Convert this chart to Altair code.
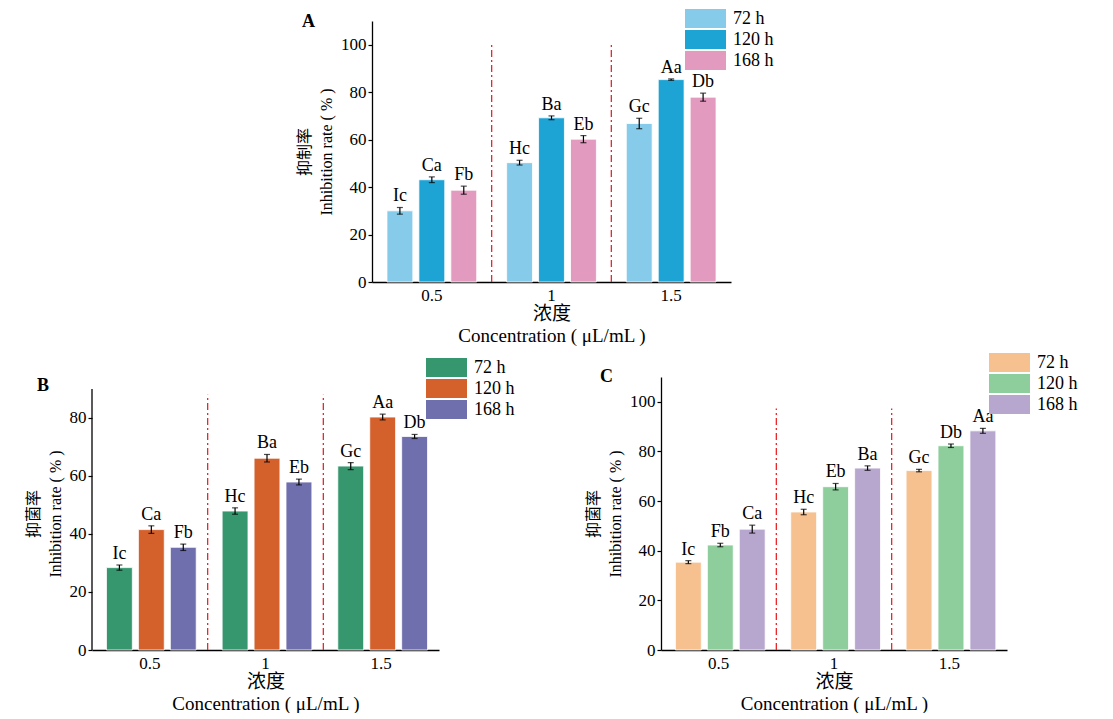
import altair as alt
import pandas as pd

SERIF = "Liberation Serif, Noto Sans CJK SC"

conc = ["0.5", "1", "1.5"]
series = ["72 h", "120 h", "168 h"]

# Panel A
a_72 = [30.0, 50.3, 66.8]
a_120 = [43.1, 69.2, 85.3]
a_168 = [38.7, 60.2, 77.9]
a_72_err = [1.4, 1.0, 2.2]
a_120_err = [1.2, 0.8, 0.3]
a_168_err = [1.7, 1.5, 1.7]
a_72_lab = ["Ic", "Hc", "Gc"]
a_120_lab = ["Ca", "Ba", "Aa"]
a_168_lab = ["Fb", "Eb", "Db"]
a_colors = ["#87CBEB", "#1EA3D5", "#E29ABF"]

# Panel B
b_72 = [28.4, 47.9, 63.4]
b_120 = [41.5, 66.1, 80.3]
b_168 = [35.4, 57.9, 73.6]
b_72_err = [0.9, 1.1, 1.2]
b_120_err = [1.3, 1.3, 1.0]
b_168_err = [1.1, 1.0, 0.7]
b_72_lab = ["Ic", "Hc", "Gc"]
b_120_lab = ["Ca", "Ba", "Aa"]
b_168_lab = ["Fb", "Eb", "Db"]
b_colors = ["#36976F", "#D4602C", "#6F6FAD"]

# Panel C
c_72 = [35.4, 55.6, 72.3]
c_120 = [42.3, 65.8, 82.3]
c_168 = [48.7, 73.3, 88.3]
c_72_err = [0.6, 1.1, 0.5]
c_120_err = [0.7, 1.3, 0.7]
c_168_err = [1.6, 0.9, 1.0]
c_72_lab = ["Ic", "Hc", "Gc"]
c_120_lab = ["Fb", "Eb", "Db"]
c_168_lab = ["Ca", "Ba", "Aa"]
c_colors = ["#F6C08F", "#8DCE9C", "#B7A6CD"]

separators = [1, 2]


def make_df(vals, errs, labs):
    rows = []
    for s, v, e, l in zip(series, vals, errs, labs):
        for c, vv, ee, ll in zip(conc, v, e, l):
            rows.append({"conc": c, "series": s, "value": vv, "err": ee,
                         "lo": vv - ee, "hi": vv + ee, "label": ll})
    return pd.DataFrame(rows)


def panel(df, colors, ydomain, yticks, sep_top, ytitle_cn, width, height,
          legx, legy, letter, letter_dx, letter_off, axis_top=None):
    base = alt.Chart(df)
    x = alt.X("conc:N", sort=conc,
              scale=alt.Scale(paddingInner=0.25, paddingOuter=0.125),
              axis=alt.Axis(title=["浓度", "Concentration ( μL/mL )"],
                            labelAngle=0, ticks=False, labelPadding=5,
                            titlePadding=1, titleLineHeight=22,
                            titleFontSize=19, orient="bottom"))
    xo = alt.XOffset("series:N", sort=series,
                     scale=alt.Scale(paddingInner=0.19, paddingOuter=0))
    yaxis = alt.Axis(values=yticks, title=[ytitle_cn, "Inhibition rate ( % )"],
                     grid=False, titlePadding=6, titleLineHeight=22,
                     titleFontSize=16, domain=axis_top is None)
    y = alt.Y("value:Q", scale=alt.Scale(domain=ydomain, nice=False, zero=True),
              axis=yaxis)
    bars = base.mark_bar(stroke="white", strokeWidth=0.8).encode(
        x=x, xOffset=xo, y=y,
        color=alt.Color("series:N", sort=series,
                        scale=alt.Scale(domain=series, range=colors),
                        legend=alt.Legend(title=None, orient="none",
                                          legendX=legx, legendY=legy,
                                          symbolType="M-1,-0.463H1V0.463H-1Z",
                                          symbolSize=1681, clipHeight=21,
                                          symbolStrokeWidth=0, symbolOpacity=1,
                                          labelFontSize=18, labelFont=SERIF,
                                          labelColor="black", labelOffset=7,
                                          padding=0, rowPadding=0)))
    err = base.mark_rule(color="black", strokeWidth=1.2).encode(
        x=x, xOffset=xo, y="lo:Q", y2="hi:Q")
    cap_hi = base.mark_tick(color="black", size=6, thickness=1.2).encode(
        x=x, xOffset=xo, y="hi:Q")
    cap_lo = base.mark_tick(color="black", size=6, thickness=1.2).encode(
        x=x, xOffset=xo, y="lo:Q")
    txt = base.mark_text(baseline="bottom", dy=-2, fontSize=18, font=SERIF,
                         color="black").encode(
        x=x, xOffset=xo, y="hi:Q", text="label:N")
    inner_layers = [bars, err, cap_hi, cap_lo, txt]
    if axis_top is not None:
        ax = alt.Chart(pd.DataFrame({"z": [0], "t": [axis_top]})).mark_rule(
            color="black", strokeWidth=1.3).encode(
            x=alt.value(0), y=alt.Y("z:Q"), y2="t:Q")
        inner_layers.append(ax)
    inner = alt.layer(*inner_layers)
    sep = alt.Chart(pd.DataFrame({"pos": separators, "top": [sep_top] * len(separators),
                                  "zero": [0] * len(separators)})).mark_rule(
        color="#E8262A", strokeWidth=1.3, strokeDash=[7, 3, 2, 3]).encode(
        x=alt.X("pos:Q", scale=alt.Scale(domain=[0, 3], nice=False), axis=None),
        y=alt.Y("zero:Q"), y2="top:Q")
    return alt.layer(inner, sep).resolve_scale(x="independent").properties(
        width=width, height=height,
        title=alt.TitleParams(letter, anchor="start", frame="group",
                              dx=letter_dx, offset=letter_off, fontSize=18,
                              fontWeight="bold", font=SERIF, color="black"))


A = panel(make_df([a_72, a_120, a_168], [a_72_err, a_120_err, a_168_err],
                  [a_72_lab, a_120_lab, a_168_lab]),
          a_colors, [0, 110], [0, 20, 40, 60, 80, 100], 100, "抑制率",
          359, 261, 313, -13, "A", -70, -23)
B = panel(make_df([b_72, b_120, b_168], [b_72_err, b_120_err, b_168_err],
                  [b_72_lab, b_120_lab, b_168_lab]),
          b_colors, [0, 94.1], [0, 20, 40, 60, 80], 88, "抑菌率",
          347, 273, 334, -20, "B", -55, -38, axis_top=90)
C = panel(make_df([c_72, c_120, c_168], [c_72_err, c_120_err, c_168_err],
                  [c_72_lab, c_120_lab, c_168_lab]),
          c_colors, [0, 110], [0, 20, 40, 60, 80, 100], 97.3, "抑菌率",
          346, 273, 328, -25, "C", -61, -34)

spacer = alt.Chart(pd.DataFrame({"s": [0]})).mark_point(opacity=0).properties(
    width=204, height=1)

top_row = alt.hconcat(spacer, A, spacing=0).resolve_scale(
    color="independent").resolve_legend(color="independent")
bottom_row = alt.hconcat(B, C, spacing=70).resolve_scale(
    color="independent", y="independent").resolve_legend(color="independent")

chart = alt.vconcat(top_row, bottom_row, spacing=7).resolve_scale(
    color="independent", y="independent", x="independent"
).resolve_legend(color="independent").properties(
    padding={"left": 17, "top": 0, "right": 0, "bottom": 0}
).configure_view(strokeWidth=0).configure_axis(
    domainColor="black", domainWidth=1.3, tickColor="black", tickSize=4,
    tickWidth=1.2, labelFont=SERIF, labelFontSize=17, labelColor="black",
    titleFont=SERIF, titleFontSize=16, titleFontWeight="normal",
    titleColor="black"
)

chart.save("out.html", embed_options={"renderer": "svg", "actions": False})
